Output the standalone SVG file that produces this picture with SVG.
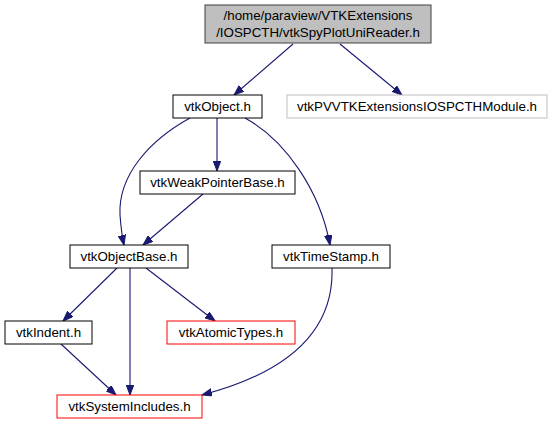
<svg xmlns="http://www.w3.org/2000/svg" width="552" height="425" viewBox="0 0 552 425">
<defs>
<style>
text{font-family:"Liberation Sans",Arial,Helvetica,sans-serif;font-size:13.33px;fill:#000;text-anchor:middle}
.n rect{fill:#fff;stroke:#000;stroke-width:1}
.root rect{fill:#bfbfbf;stroke:#404040}
.gray rect{stroke:#bfbfbf}
.red rect{stroke:#ff0000}
.e path{fill:none;stroke:#191970;stroke-width:1.1;marker-end:url(#ah)}
</style>
<marker id="ah" markerUnits="userSpaceOnUse" markerWidth="11" markerHeight="8" refX="10" refY="3.75" orient="auto" viewBox="0 0 11 8">
<path d="M0,0 L10,3.75 L0,7.5 z" fill="#191970" stroke="#191970" stroke-width="1"/>
</marker>
</defs>
<g id="edges" class="e">
<path d="M293,44 L234,95"/>
<path d="M340,44 L402,95"/>
<path d="M190,118 C150,140 118,175 120,215 C121,228 122,236 124,245"/>
<path d="M217,118 L217,171"/>
<path d="M245,118 C285,140 320,190 330,245"/>
<path d="M203,194 L143,245"/>
<path d="M117,268 L63,321"/>
<path d="M130,268 L130,395"/>
<path d="M146,268 L215,321"/>
<path d="M61,344 L116,395"/>
<path d="M332,268 C334,330 290,372 202,395"/>
</g>
<g id="root" class="n root">
<rect x="205" y="5" width="226" height="38"/>
<text x="318" y="20">/home/paraview/VTKExtensions</text>
<text x="318" y="37">/IOSPCTH/vtkSpyPlotUniReader.h</text>
</g>
<g id="vtkObject" class="n">
<rect x="173" y="95" width="89" height="23"/>
<text x="217.5" y="111">vtkObject.h</text>
</g>
<g id="vtkPVVTKExtensionsIOSPCTHModule" class="n gray">
<rect x="287" y="95" width="260" height="23"/>
<text x="417" y="111">vtkPVVTKExtensionsIOSPCTHModule.h</text>
</g>
<g id="vtkWeakPointerBase" class="n">
<rect x="140" y="171" width="155" height="23"/>
<text x="217.5" y="187">vtkWeakPointerBase.h</text>
</g>
<g id="vtkObjectBase" class="n">
<rect x="70" y="245" width="118" height="23"/>
<text x="129" y="261">vtkObjectBase.h</text>
</g>
<g id="vtkTimeStamp" class="n">
<rect x="272" y="245" width="118" height="23"/>
<text x="331" y="261">vtkTimeStamp.h</text>
</g>
<g id="vtkIndent" class="n">
<rect x="5" y="321" width="87" height="23"/>
<text x="48.5" y="337">vtkIndent.h</text>
</g>
<g id="vtkAtomicTypes" class="n red">
<rect x="167" y="321" width="128" height="23"/>
<text x="231" y="337">vtkAtomicTypes.h</text>
</g>
<g id="vtkSystemIncludes" class="n red">
<rect x="57" y="395" width="145" height="23"/>
<text x="129.5" y="411">vtkSystemIncludes.h</text>
</g>
</svg>
